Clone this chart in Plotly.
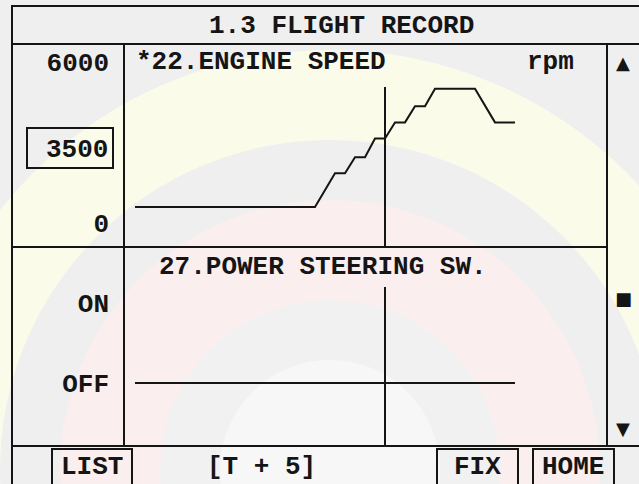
import plotly.graph_objects as go

W, H = 639, 484

# ---- data ----
time_s = [-25, -7, -5, -4, -3, -2, -1, 0, 1, 2, 3, 4, 5, 9, 11, 13]
engine_rpm = [600, 600, 1850, 1850, 2450, 2450, 3150, 3150, 3750, 3750,
              4350, 4350, 5000, 5000, 3750, 3750]
ps_time = [-25, 13]
ps_state = [0, 0]
rpm_ticks = [0, 6000]
rpm_ticktext = ["0", "6000"]
sw_ticks = [1, 0]
sw_ticktext = ["ON", "OFF"]
cursor_t = 0
current_value = "3500"

FONT = "Liberation Mono"
FS = 26
INK = "#151515"


def px(x):
    return x / W


def py(y):
    return 1 - y / H


fig = go.Figure()
fig.add_trace(go.Scatter(x=time_s, y=engine_rpm, mode="lines",
                         line=dict(color=INK, width=2), xaxis="x", yaxis="y",
                         hoverinfo="skip"))
fig.add_trace(go.Scatter(x=ps_time, y=ps_state, mode="lines",
                         line=dict(color=INK, width=2), xaxis="x2", yaxis="y2",
                         hoverinfo="skip"))

shapes = []


def circ(cx, cy, r, color):
    shapes.append(dict(type="circle", xref="paper", yref="paper",
                       x0=px(cx - r), x1=px(cx + r), y0=py(cy + r), y1=py(cy - r),
                       fillcolor=color, line=dict(width=0), layer="below"))


# faint watermark
circ(330, 470, 420, "#fbfbea")
circ(330, 470, 330, "#efefef")
circ(330, 470, 270, "#faeeee")
circ(330, 470, 170, "#f1f1f1")
circ(330, 470, 110, "#f7f7f7")


def line(x0, y0, x1, y1, w=2):
    shapes.append(dict(type="line", xref="paper", yref="paper",
                       x0=px(x0), x1=px(x1), y0=py(y0), y1=py(y1),
                       line=dict(color=INK, width=w), layer="above"))


def rect(x0, y0, x1, y1, w=2):
    shapes.append(dict(type="rect", xref="paper", yref="paper",
                       x0=px(x0), x1=px(x1), y0=py(y1), y1=py(y0),
                       line=dict(color=INK, width=w), layer="above"))


rect(12, 6, 660, 500)
line(12, 44, 660, 44)
line(124, 44, 124, 446)
line(607, 44, 607, 446)
line(12, 247, 607, 247)
line(12, 446, 660, 446)
rect(27, 128, 113, 168)
rect(52, 449, 132, 500)
rect(437, 449, 518, 500)
rect(533, 449, 614, 500)

# cursor lines
shapes.append(dict(type="line", xref="x", yref="paper", x0=cursor_t, x1=cursor_t,
                   y0=py(247), y1=py(87), line=dict(color=INK, width=2)))
shapes.append(dict(type="line", xref="x2", yref="paper", x0=cursor_t, x1=cursor_t,
                   y0=py(446), y1=py(287), line=dict(color=INK, width=2)))

ann = []


def text(x, y, s, anchor="center", size=FS, family=FONT):
    ann.append(dict(x=px(x), y=py(y), xref="paper", yref="paper", text=s,
                    showarrow=False, xanchor=anchor, yanchor="middle",
                    font=dict(family=family, size=size, color=INK)))


text(341, 26, "<b>1.3 FLIGHT RECORD</b>")
text(134, 62, "<b>*22.ENGINE SPEED</b>", anchor="left")
text(550, 62, "<b>rpm</b>")
text(157, 267, "<b>27.POWER STEERING SW.</b>", anchor="left")
text(110, 150, "<b>" + current_value + "</b>", anchor="right")
text(623, 62, "▲", size=18, family="DejaVu Sans")
text(623, 298, "■", size=18, family="DejaVu Sans")
text(623, 428, "▼", size=18, family="DejaVu Sans")
text(92, 467, "<b>LIST</b>")
text(261, 467, "<b>[T + 5]</b>")
text(477, 467, "<b>FIX</b>")
text(573, 467, "<b>HOME</b>")

xr = [(124 - 385) / 10, (607 - 385) / 10]
ytop_lo = (223 - 247) * 6000 / 161
ytop_hi = (223 - 44) * 6000 / 161
ybot_lo = (383 - 446) / 80
ybot_hi = (383 - 247) / 80

tickfont = dict(family=FONT, size=FS, color=INK)
fig.update_layout(
    width=W, height=H,
    margin=dict(l=0, r=0, t=0, b=0),
    paper_bgcolor="#efefef", plot_bgcolor="rgba(0,0,0,0)",
    showlegend=False,
    shapes=shapes, annotations=ann,
    xaxis=dict(domain=[px(124), px(607)], range=xr, visible=False, anchor="y"),
    xaxis2=dict(domain=[px(124), px(607)], range=xr, visible=False, anchor="y2"),
    yaxis=dict(domain=[py(247), py(44)], range=[ytop_lo, ytop_hi],
               tickvals=rpm_ticks, ticktext=["<b>%s</b>" % t for t in rpm_ticktext],
               tickfont=tickfont, showgrid=False, zeroline=False, showline=False,
               ticks="", ticklabelstandoff=14, anchor="x"),
    yaxis2=dict(domain=[py(446), py(247)], range=[ybot_lo, ybot_hi],
                tickvals=sw_ticks, ticktext=["<b>%s</b>" % t for t in sw_ticktext],
                tickfont=tickfont, showgrid=False, zeroline=False, showline=False,
                ticks="", ticklabelstandoff=14, anchor="x2"),
)

fig.write_html(
    "out.html",
    config={"displayModeBar": False, "staticPlot": True},
    post_script="document.body.style.margin='0';document.body.style.overflow='hidden';"
                "document.body.style.background='#efefef';",
)
